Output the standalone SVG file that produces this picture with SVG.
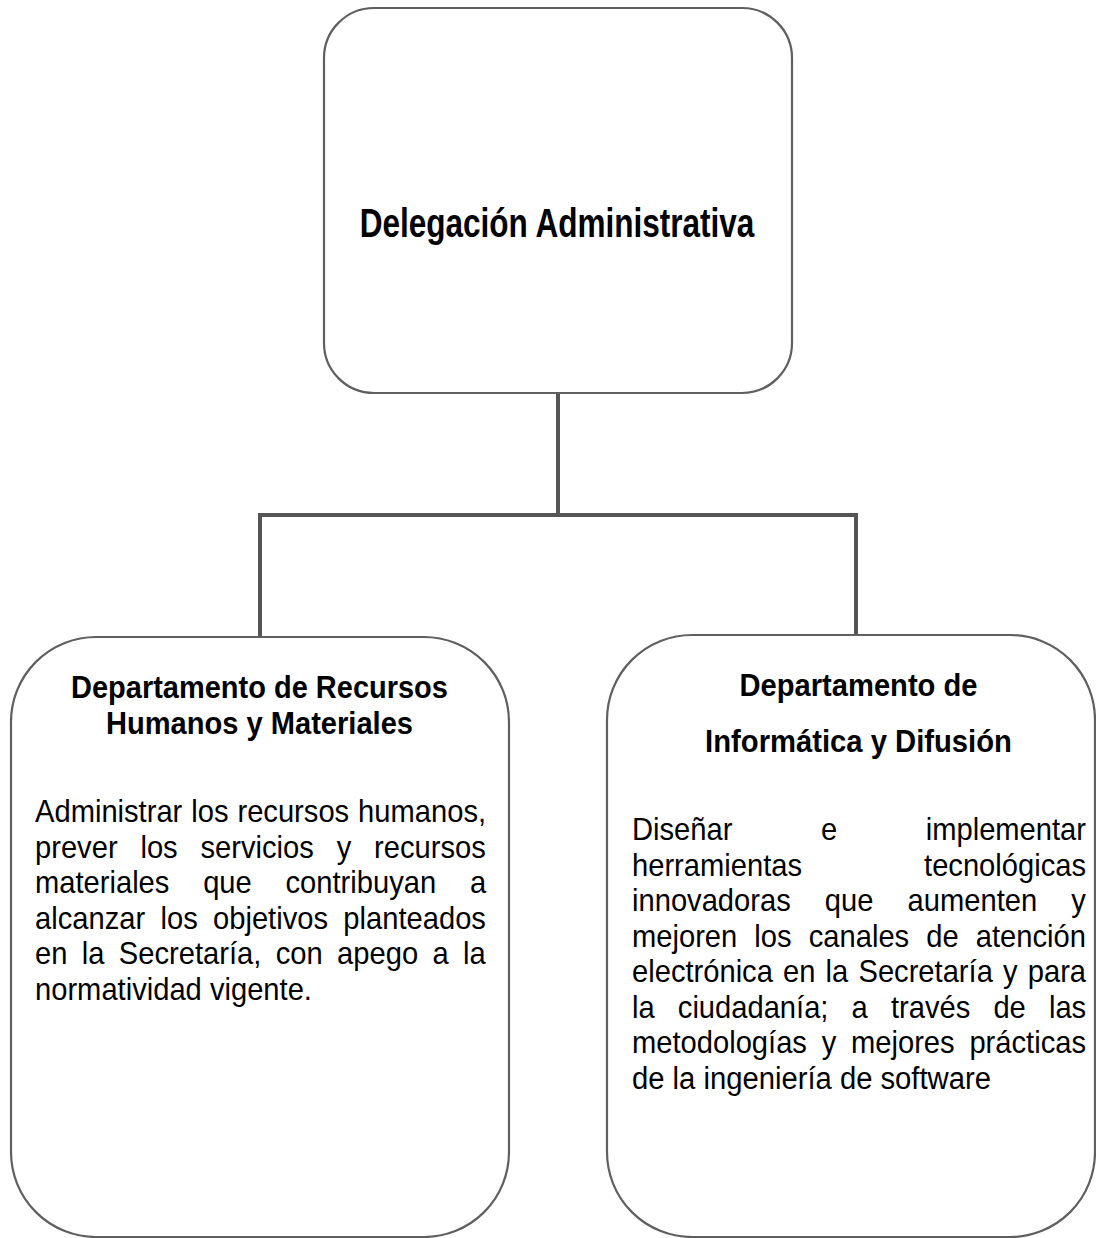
<svg xmlns="http://www.w3.org/2000/svg" width="1096" height="1238" viewBox="0 0 1096 1238">
<style>
.box{fill:#fff;stroke:#5f5f5f;stroke-width:2.2}
.conn{fill:none;stroke:#555;stroke-width:4;stroke-linejoin:miter;stroke-linecap:square}
text{font-family:"Liberation Sans",Arial,sans-serif;fill:#000}
.h{font-weight:bold;font-size:31px;text-anchor:middle}
.b{font-size:31px}
.top{font-weight:bold;font-size:40px;text-anchor:middle}
</style>
<rect width="1096" height="1238" fill="#fff"/>
<g id="connectors">
<path class="conn" d="M558 393 V515"/>
<path class="conn" d="M260 637 V515 H856 V635"/>
</g>
<g id="delegacion">
<rect class="box" x="324" y="8" width="468" height="385" rx="50" ry="50"/>
<text class="top" transform="translate(557,237) scale(0.7883,1)">Delegación Administrativa</text>
</g>
<g id="recursos">
<rect class="box" x="11" y="637" width="498" height="600" rx="85" ry="85"/>
<text class="h" transform="translate(259.5,698) scale(0.9353,1)">Departamento de Recursos</text>
<text class="h" transform="translate(259.5,734) scale(0.9379,1)">Humanos y Materiales</text>
<text class="b" transform="translate(35,822) scale(0.94,1)" word-spacing="0.9">Administrar los recursos humanos,</text>
<text class="b" transform="translate(35,857.5) scale(0.94,1)" word-spacing="15.7">prever los servicios y recursos</text>
<text class="b" transform="translate(35,893) scale(0.94,1)" word-spacing="27.3">materiales que contribuyan a</text>
<text class="b" transform="translate(35,928.5) scale(0.94,1)" word-spacing="7.7">alcanzar los objetivos planteados</text>
<text class="b" transform="translate(35,964) scale(0.94,1)" word-spacing="6.7">en la Secretaría, con apego a la</text>
<text class="b" transform="translate(35,999.5) scale(0.94,1)">normatividad vigente.</text>
</g>
<g id="informatica">
<rect class="box" x="607" y="635" width="488" height="602" rx="85" ry="85"/>
<text class="h" transform="translate(858.5,696) scale(0.94,1)">Departamento de</text>
<text class="h" transform="translate(858.5,752) scale(0.943,1)">Informática y Difusión</text>
<text class="b" transform="translate(632,840) scale(0.94,1)" word-spacing="85.6">Diseñar e implementar</text>
<text class="b" transform="translate(632,875.5) scale(0.94,1)" word-spacing="121.2">herramientas tecnológicas</text>
<text class="b" transform="translate(632,911) scale(0.94,1)" word-spacing="27.7">innovadoras que aumenten y</text>
<text class="b" transform="translate(632,946.5) scale(0.94,1)" word-spacing="9.6">mejoren los canales de atención</text>
<text class="b" transform="translate(632,982) scale(0.94,1)" word-spacing="2.2">electrónica en la Secretaría y para</text>
<text class="b" transform="translate(632,1017.5) scale(0.94,1)" word-spacing="16">la ciudadanía; a través de las</text>
<text class="b" transform="translate(632,1053) scale(0.94,1)" word-spacing="7.1">metodologías y mejores prácticas</text>
<text class="b" transform="translate(632,1088.5) scale(0.943,1)">de la ingeniería de software</text>
</g>
</svg>
